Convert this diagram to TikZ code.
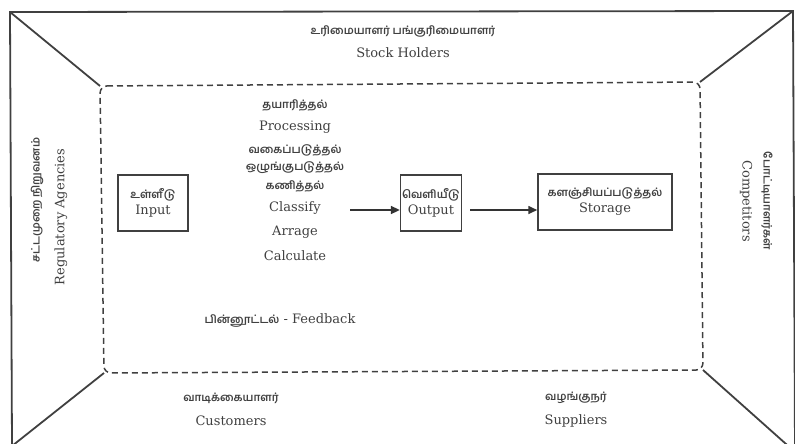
\documentclass[tikz,border=0pt]{standalone}
\usepackage{fontspec}
\setmainfont{DejaVu Serif}
\newfontfamily\tamilfont[Script=Tamil]{Hind Madurai}
\usetikzlibrary{arrows.meta}

\newcommand{\tam}[1]{{\tamilfont\bfseries\fontsize{11}{13}\selectfont #1}}

\begin{document}
\begin{tikzpicture}[x=1pt, y=-1pt, line width=1.6pt,
        every node/.style={text=black!75, font=\fontsize{13}{16}\selectfont},
        frame/.style={draw=black!75, line width=1.8pt},
        block/.style={draw=black!75, line width=1.5pt, align=center, minimum height=56pt, inner xsep=1.5pt, inner ysep=3pt},
        flow/.style={draw=black!80, line width=1.6pt, -{Triangle[length=9pt, width=8pt]}}]
        \useasboundingbox (0,0) rectangle (795,444);
        % outer frame and the inner (dashed) system
        \coordinate (outer-nw) at (10,12);
        \coordinate (outer-ne) at (793,11);
        \coordinate (outer-sw) at (12,446);
        \coordinate (outer-se) at (795,452);
        \coordinate (inner-nw) at (100,86);
        \coordinate (inner-ne) at (700,82);
        \coordinate (inner-sw) at (104,373);
        \coordinate (inner-se) at (703,370);
        \draw[frame] (outer-sw) -- (outer-nw) -- (outer-ne) -- (outer-se);
        \draw[frame] (outer-sw) -- (outer-se);
        \draw[black!75, line width=1.5pt, dash pattern=on 6pt off 4pt, rounded corners=7pt]
            (inner-nw) -- (inner-ne) -- (inner-se) -- (inner-sw) -- cycle;
        \foreach \corner in {nw,ne,sw,se}
            \draw[frame] (outer-\corner) -- (inner-\corner);
        % environment
        \node (holders-ta) at (403,31) {\tam{உரிமையாளர் பங்குரிமையாளர்}};
        \node (holders-en) at (403,53) {Stock Holders};
        \node[rotate=90] (agency-ta) at (37,200) {\tam{சட்டமுறை நிறுவனம்}};
        \node[rotate=90] (agency-en) at (61,217) {Regulatory Agencies};
        \node[rotate=-90] (rival-ta) at (767,201) {\tam{போட்டியாளர்கள்}};
        \node[rotate=-90] (rival-en) at (746,201) {Competitors};
        \node (customer-ta) at (231,398) {\tam{வாடிக்கையாளர்}};
        \node (customer-en) at (231,421) {Customers};
        \node (supplier-ta) at (576,398) {\tam{வழங்குநர்}};
        \node (supplier-en) at (576,421) {Suppliers};
        % system
        \node[block, minimum width=70pt] (input) at (153,203) {\tam{உள்ளீடு}\\Input};
        \foreach \row/\ypos/\step in {1/105/{\tam{தயாரித்தல்}}, 2/127/Processing,
                3/150/{\tam{வகைப்படுத்தல்}}, 4/168/{\tam{ஒழுங்குபடுத்தல்}}, 5/186/{\tam{கணித்தல்}},
                6/208/Classify, 7/232/Arrage, 8/256/Calculate}
            \node (proc-\row) at (295,\ypos) {\step};
        \coordinate (proc-out) at (350,210);
        \node[block, minimum width=57pt] (output) at (431,203) {\tam{வெளியீடு}\\Output};
        \node[block, minimum width=134pt] (storage) at (605,202) {\tam{களஞ்சியப்படுத்தல்}\\Storage};
        \draw[flow] (proc-out) -- (output.west |- proc-out);
        \draw[flow] (output.east |- proc-out) ++(8pt,0) -- (storage.west |- proc-out);
        \node (feedback) at (280,320) {\tam{பின்னூட்டல்} - Feedback};
\end{tikzpicture}
\end{document}
